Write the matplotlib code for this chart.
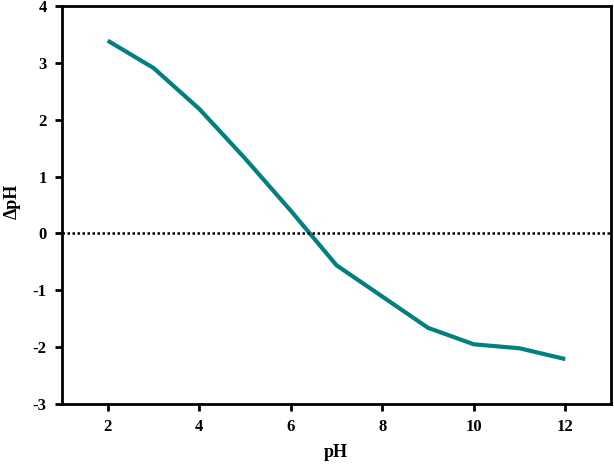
import matplotlib
matplotlib.use("Agg")
import matplotlib.pyplot as plt

# initial pH vs. change in pH
ph_initial = [2, 3, 4, 5, 6, 7, 8, 9, 10, 11, 12]
delta_ph = [3.39, 2.91, 2.19, 1.32, 0.40, -0.56, -1.11, -1.66, -1.95, -2.02, -2.21]

x_ticks = [2, 4, 6, 8, 10, 12]
y_ticks = [-3, -2, -1, 0, 1, 2, 3, 4]

plt.rcParams['font.family'] = ['Liberation Serif', 'DejaVu Serif']
plt.rcParams['font.weight'] = 'bold'
plt.rcParams['axes.unicode_minus'] = False

fig = plt.figure(figsize=(6.14, 4.65), dpi=100)
ax = fig.add_axes([62 / 614, 1 - 404 / 465, 549 / 614, 398 / 465])

ax.plot(ph_initial, delta_ph, color='#00807f', linewidth=3, solid_capstyle='butt')
ax.axhline(0, color='black', linestyle=(0, (1, 1)), linewidth=1.8)

ax.set_xlim(1, 13)
ax.set_ylim(-3, 4)
ax.set_xticks(x_ticks)
ax.set_yticks(y_ticks)

for side in ['left', 'right', 'top', 'bottom']:
    ax.spines[side].set_linewidth(2)
ax.tick_params(width=2, length=5, labelsize=12, pad=6)

fig.text(336 / 614, 1 - 452 / 465, 'pH', fontsize=13, fontweight='bold',
         ha='center', va='center')
fig.text(12 / 614, 1 - 201 / 465, 'ΔpH', fontsize=13, fontweight='bold',
         ha='center', va='center', rotation=90)

fig.savefig('out.png', dpi=100)
